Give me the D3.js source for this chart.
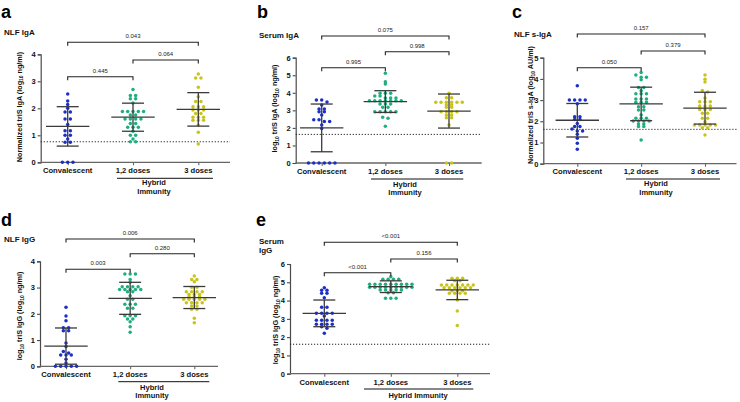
<!DOCTYPE html>
<html><head><meta charset="utf-8">
<script src="https://cdn.jsdelivr.net/npm/d3@7"></script>
<style>body{margin:0;background:#fff}svg{display:block}text{font-family:"Liberation Sans",Arial,sans-serif}</style>
</head><body><svg id="chart" width="740" height="402"></svg>
<script>
const categories = ["Convalescent", "1,2 doses", "3 doses"];
const groupColors = ["#1b2fc6", "#1fae7e", "#c8c41c"];

// a: NLF IgA
const nlfIgA_conv = [2.53, 2.27, 2.14, 2.0, 1.86, 1.86, 1.6, 1.6, 1.4, 1.17, 1.17, 1.0, 1.0, 0.86, 0.74, 0.74, 0, 0, 0];
const nlfIgA_d12 = [2.70, 2.47, 2.47, 2.35, 2.35, 2.20, 1.88, 1.88, 1.88, 1.88, 1.88, 1.75, 1.75, 1.60, 1.60, 1.60, 1.60, 1.44, 1.44, 1.30, 1.30, 1.30, 1.15, 1.00, 1.00, 0.86, 0.76, 0.76];
const nlfIgA_d3 = [3.27, 3.12, 3.12, 2.78, 2.43, 2.25, 2.25, 2.06, 2.06, 2.06, 1.94, 1.94, 1.94, 1.81, 1.81, 1.67, 1.67, 1.67, 1.56, 1.56, 1.56, 1.38, 1.11, 0.68];
const nlfIgA_mean = [1.33, 1.67, 1.96];
const nlfIgA_sd = [0.73, 0.52, 0.62];
const nlfIgA_p = ["0.445", "0.064", "0.043"];
const nlfIgA_lod = 0.76;
const nlfIgA_ticks = [0, 1, 2, 3, 4];

// b: Serum IgA
const serIgA_conv = [3.59, 3.59, 3.48, 3.30, 3.08, 3.08, 2.92, 2.92, 2.73, 2.47, 2.47, 2.36, 2.36, 2.17, 1.96, 0, 0, 0, 0, 0, 0];
const serIgA_d12 = [5.11, 4.63, 4.50, 3.97, 3.97, 3.97, 3.82, 3.82, 3.70, 3.70, 3.70, 3.55, 3.55, 3.55, 3.55, 3.55, 3.55, 3.55, 3.36, 3.36, 3.36, 3.17, 3.17, 2.92, 2.92, 2.92, 2.92, 2.92, 2.60, 2.55, 2.09];
const serIgA_d3 = [3.97, 3.72, 3.72, 3.46, 3.46, 3.46, 3.46, 3.46, 3.46, 3.32, 3.32, 3.17, 3.17, 2.92, 2.92, 2.92, 2.92, 2.73, 2.73, 2.58, 2.58, 2.17, 0, 0];
const serIgA_mean = [2.0, 3.5, 2.96];
const serIgA_sd = [1.36, 0.62, 0.97];
const serIgA_p = ["0.995", "0.998", "0.075"];
const serIgA_lod = 1.63;
const serIgA_ticks = [0, 1, 2, 3, 4, 5, 6];

// c: NLF s-IgA
const nlfSIgA_conv = [3.68, 3.0, 3.0, 3.0, 3.0, 2.83, 2.22, 2.22, 2.09, 2.09, 1.9, 1.75, 1.75, 1.64, 1.54, 1.54, 1.39, 1.2, 0.96, 0.68];
const nlfSIgA_d12 = [4.30, 4.18, 4.08, 4.08, 3.96, 3.60, 3.60, 3.44, 3.30, 3.30, 3.30, 3.05, 3.05, 3.05, 2.90, 2.90, 2.90, 2.69, 2.69, 2.53, 2.53, 2.30, 2.14, 2.14, 2.14, 2.01, 2.01, 2.01, 2.01, 1.87, 1.87, 1.75, 1.75, 1.12];
const nlfSIgA_d3 = [4.18, 3.98, 3.85, 3.45, 3.38, 3.10, 2.92, 2.92, 2.92, 2.72, 2.72, 2.72, 2.56, 2.56, 2.56, 2.38, 2.38, 2.14, 2.14, 1.98, 1.83, 1.83, 1.83, 1.83, 1.83, 1.70, 1.70, 1.35];
const nlfSIgA_mean = [2.05, 2.82, 2.62];
const nlfSIgA_sd = [0.79, 0.79, 0.75];
const nlfSIgA_p = ["0.050", "0.379", "0.157"];
const nlfSIgA_lod = 1.62;
const nlfSIgA_ticks = [0, 1, 2, 3, 4, 5];

// d: NLF IgG
const nlfIgG_conv = [2.25, 1.92, 1.74, 1.47, 1.47, 1.35, 1.35, 0.89, 0.75, 0.56, 0.51, 0.43, 0.43, 0.43, 0.27, 0.13, 0, 0, 0, 0, 0];
const nlfIgG_d12 = [3.52, 3.52, 3.52, 3.31, 3.20, 3.03, 3.03, 3.03, 3.03, 2.93, 2.93, 2.93, 2.93, 2.93, 2.84, 2.84, 2.69, 2.55, 2.55, 2.36, 2.36, 2.36, 2.21, 2.21, 1.93, 1.93, 1.93, 1.80, 1.80, 1.70, 1.51, 1.30];
const nlfIgG_d3 = [3.44, 3.31, 3.31, 3.22, 3.01, 3.01, 2.84, 2.84, 2.84, 2.84, 2.74, 2.74, 2.74, 2.65, 2.65, 2.65, 2.55, 2.55, 2.55, 2.55, 2.55, 2.42, 2.42, 2.42, 2.42, 2.30, 2.30, 2.17, 2.17, 1.83, 1.66];
const nlfIgG_mean = [0.77, 2.59, 2.62];
const nlfIgG_sd = [0.69, 0.61, 0.42];
const nlfIgG_p = ["0.003", "0.280", "0.006"];
const nlfIgG_lod = null;
const nlfIgG_ticks = [0, 1, 2, 3, 4];

// e: Serum IgG
const serIgG_conv = [4.70, 4.56, 4.56, 4.40, 4.40, 4.16, 3.63, 3.63, 3.30, 3.30, 3.30, 3.30, 3.16, 2.92, 2.92, 2.92, 2.92, 2.70, 2.70, 2.70, 2.70, 2.57, 2.48, 2.21];
const serIgG_d12 = [5.30, 5.16, 5.16, 5.16, 5.16, 4.89, 4.89, 4.89, 4.89, 4.89, 4.89, 4.89, 4.89, 4.89, 4.73, 4.73, 4.73, 4.73, 4.73, 4.73, 4.73, 4.73, 4.73, 4.58, 4.58, 4.58, 4.58, 4.58, 4.43, 4.43, 4.12, 4.12, 4.12];
const serIgG_d3 = [5.22, 5.22, 5.22, 5.09, 5.09, 4.85, 4.85, 4.85, 4.85, 4.85, 4.85, 4.85, 4.70, 4.70, 4.70, 4.70, 4.70, 4.70, 4.54, 4.54, 4.54, 4.40, 4.40, 4.40, 4.40, 4.03, 3.43, 2.63];
const serIgG_mean = [3.3, 4.76, 4.58];
const serIgG_sd = [0.73, 0.32, 0.53];
const serIgG_p = ["<0.001", "0.156", "<0.001"];
const serIgG_lod = 1.61;
const serIgG_ticks = [0, 1, 2, 3, 4, 5, 6];

const panels = [
  {letter: "a", title: ["NLF IgA"], ylab: [["Normalized triS IgA (log"], ["10", 1], [" ng/ml)"]],
   groups: [nlfIgA_conv, nlfIgA_d12, nlfIgA_d3], mean: nlfIgA_mean, sd: nlfIgA_sd, p: nlfIgA_p, lod: nlfIgA_lod, ticks: nlfIgA_ticks,
   hybrid: ["Hybrid", "Immunity"],
   L: {ax: 40.7, top: 54.3, bot: 162.3, right: 230, c0: 67.7, c2: 198.3, lx: 1, ly: 17.5, tx: 4, ty: 35, ylx: 21.5, yly: 107,
       br: [76.7, 60, 42.3], cy: 173, hl: [117, 213], hy: 178.3, hx: 154, hty: [185, 193.5]}},
  {letter: "b", title: ["Serum IgA"], ylab: [["log"], ["10", 1], [" triS IgA (log"], ["10", 1], [" ng/ml)"]],
   groups: [serIgA_conv, serIgA_d12, serIgA_d3], mean: serIgA_mean, sd: serIgA_sd, p: serIgA_p, lod: serIgA_lod, ticks: serIgA_ticks,
   hybrid: ["Hybrid", "Immunity"],
   L: {ax: 295.7, top: 57.7, bot: 163, right: 481.7, c0: 321.7, c2: 449, lx: 257, ly: 17.5, tx: 259, ty: 37.7, ylx: 277.3, yly: 108.5,
       br: [67.7, 51.7, 36], cy: 174.3, hl: [371, 463.3], hy: 179, hx: 405, hty: [186.5, 194.8]}},
  {letter: "c", title: ["NLF s-IgA"], ylab: [["Normalized triS s-IgA (log"], ["10", 1], [" AU/ml)"]],
   groups: [nlfSIgA_conv, nlfSIgA_d12, nlfSIgA_d3], mean: nlfSIgA_mean, sd: nlfSIgA_sd, p: nlfSIgA_p, lod: nlfSIgA_lod, ticks: nlfSIgA_ticks,
   hybrid: ["Hybrid", "Immunity"],
   L: {ax: 543.3, top: 57.7, bot: 163.7, right: 736.5, c0: 577.3, c2: 705, lx: 512, ly: 17.5, tx: 514, ty: 37.3, ylx: 532.7, yly: 105,
       br: [67.7, 51, 34], cy: 174.3, hl: [626, 720], hy: 179, hx: 656, hty: [186, 194.5]}},
  {letter: "d", title: ["NLF IgG"], ylab: [["log"], ["10", 1], [" triS IgG (log"], ["10", 1], [" ng/ml)"]],
   groups: [nlfIgG_conv, nlfIgG_d12, nlfIgG_d3], mean: nlfIgG_mean, sd: nlfIgG_sd, p: nlfIgG_p, lod: nlfIgG_lod, ticks: nlfIgG_ticks,
   hybrid: ["Hybrid", "Immunity"],
   L: {ax: 40, top: 261.3, bot: 366.3, right: 218, c0: 66, c2: 194.3, lx: 1, ly: 226, tx: 4, ty: 242.3, ylx: 22, yly: 316,
       br: [269.3, 253.7, 239], cy: 376.7, hl: [118.3, 209.3], hy: 381.7, hx: 152, hty: [389.5, 397.5]}},
  {letter: "e", title: ["Serum", "IgG"], ylab: [["log"], ["10", 1], [" triS IgG (log"], ["10", 1], [" ng/ml)"]],
   groups: [serIgG_conv, serIgG_d12, serIgG_d3], mean: serIgG_mean, sd: serIgG_sd, p: serIgG_p, lod: serIgG_lod, ticks: serIgG_ticks,
   hybrid: ["Hybrid Immunity"],
   L: {ax: 290, top: 264, bot: 373.7, right: 490, c0: 324.3, c2: 457.3, lx: 256, ly: 226, tx: 259, ty: 244.3, tdy: 9, ylx: 277.7, yly: 320,
       br: [272.7, 259, 242.3], cy: 385, hl: [364, 473.3], hy: 389, hx: 418, hty: [397.5]}}
];

const svg = d3.select("#chart");
const axisColor = "#4a4a4a";
const barColor = "#3a3a3a";

function swarm(vals, y, cx, step, thr) {
  const pts = vals.map(v => ({v, py: y(v)})).sort((a, b) => a.py - b.py);
  const rows = [];
  let cur = null;
  for (const p of pts) {
    if (cur && p.py - cur[0].py < thr) cur.push(p);
    else { cur = [p]; rows.push(cur); }
  }
  rows.forEach(r => {
    const n = r.length;
    r.forEach((p, i) => { p.px = cx + (i - (n - 1) / 2) * step; });
  });
  return pts;
}

panels.forEach(P => {
  const L = P.L;
  const g = svg.append("g");
  const ymax = d3.max(P.ticks);
  const y = d3.scaleLinear().domain([0, ymax]).range([L.bot, L.top]);
  const x = d3.scalePoint().domain(categories).range([L.c0, L.c2]);

  g.append("text").attr("x", L.lx).attr("y", L.ly).text(P.letter)
    .attr("font-size", 18).attr("font-weight", "bold").attr("fill", "#000");
  P.title.forEach((t, i) => g.append("text").attr("x", L.tx).attr("y", L.ty + i * (L.tdy || 9)).text(t)
    .attr("font-size", 8).attr("font-weight", "bold").attr("fill", "#111"));

  const yl = g.append("text").attr("transform", `translate(${L.ylx},${L.yly}) rotate(-90)`)
    .attr("text-anchor", "middle").attr("font-size", 7.2).attr("font-weight", "bold").attr("fill", "#111");
  let shifted = false;
  P.ylab.forEach(seg => {
    const ts = yl.append("tspan").text(seg[0]);
    if (seg[1]) { ts.attr("font-size", 5).attr("dy", 1.8); shifted = true; }
    else if (shifted) { ts.attr("dy", -1.8); shifted = false; }
  });

  const yAxis = g.append("g").attr("transform", `translate(${L.ax},0)`)
    .call(d3.axisLeft(y).tickValues(P.ticks).tickFormat(d3.format("d")).tickSize(3).tickPadding(2));
  yAxis.select(".domain").attr("stroke", axisColor).attr("stroke-width", 1.2);
  yAxis.selectAll(".tick line").attr("stroke", axisColor).attr("stroke-width", 1.1);
  yAxis.selectAll(".tick text").attr("font-size", 7.5).attr("font-weight", "bold").attr("fill", "#111")
    .attr("font-family", "Liberation Sans, Arial, sans-serif");

  g.append("line").attr("x1", L.ax).attr("x2", L.right).attr("y1", L.bot).attr("y2", L.bot)
    .attr("stroke", "#666").attr("stroke-width", 1.3);
  const xAxis = g.append("g").attr("transform", `translate(0,${L.bot})`)
    .call(d3.axisBottom(x).tickSize(3).tickFormat(""));
  xAxis.select(".domain").remove();
  xAxis.selectAll(".tick line").attr("stroke", "#666").attr("stroke-width", 1.1);
  categories.forEach(c => g.append("text").attr("x", x(c)).attr("y", L.cy).text(c)
    .attr("text-anchor", "middle").attr("font-size", 7.6).attr("font-weight", "bold").attr("fill", "#111"));

  g.append("line").attr("x1", L.hl[0]).attr("x2", L.hl[1]).attr("y1", L.hy).attr("y2", L.hy)
    .attr("stroke", "#111").attr("stroke-width", 1);
  P.hybrid.forEach((t, i) => g.append("text").attr("x", L.hx).attr("y", L.hty[i]).text(t)
    .attr("text-anchor", "middle").attr("font-size", 7.5).attr("font-weight", "bold").attr("fill", "#111"));

  if (P.lod != null) {
    g.append("line").attr("x1", L.ax).attr("x2", L.right).attr("y1", y(P.lod)).attr("y2", y(P.lod))
      .attr("stroke", "#222").attr("stroke-width", 1).attr("stroke-dasharray", "1.2,1.8");
  }

  P.groups.forEach((vals, gi) => {
    const pts = swarm(vals, y, x(categories[gi]), 5.3, 2.2);
    g.append("g").selectAll("circle").data(pts).join("circle")
      .attr("cx", d => d.px).attr("cy", d => d.py).attr("r", 1.75).attr("fill", groupColors[gi]);
  });

  P.groups.forEach((vals, gi) => {
    const cx = x(categories[gi]);
    const m = P.mean[gi], s = P.sd[gi];
    const eb = g.append("g").attr("stroke", barColor).attr("stroke-width", 1.3);
    eb.append("line").attr("x1", cx).attr("x2", cx).attr("y1", y(m + s)).attr("y2", y(Math.max(0, m - s)));
    eb.append("line").attr("x1", cx - 21.7).attr("x2", cx + 21.7).attr("y1", y(m)).attr("y2", y(m));
    [m + s, m - s].forEach(v => eb.append("line").attr("x1", cx - 11).attr("x2", cx + 11).attr("y1", y(v)).attr("y2", y(v)));
  });

  const pairs = [[0, 1], [1, 2], [0, 2]];
  pairs.forEach((pr, i) => {
    const x1 = x(categories[pr[0]]), x2 = x(categories[pr[1]]), top = L.br[i];
    g.append("path").attr("d", `M${x1},${top + 3.5}V${top}H${x2}V${top + 3.5}`)
      .attr("fill", "none").attr("stroke", "#222").attr("stroke-width", 1.1);
    g.append("text").attr("x", (x1 + x2) / 2).attr("y", top - 4).text(P.p[i])
      .attr("text-anchor", "middle").attr("font-size", 6).attr("fill", "#222");
  });
});
</script></body></html>
